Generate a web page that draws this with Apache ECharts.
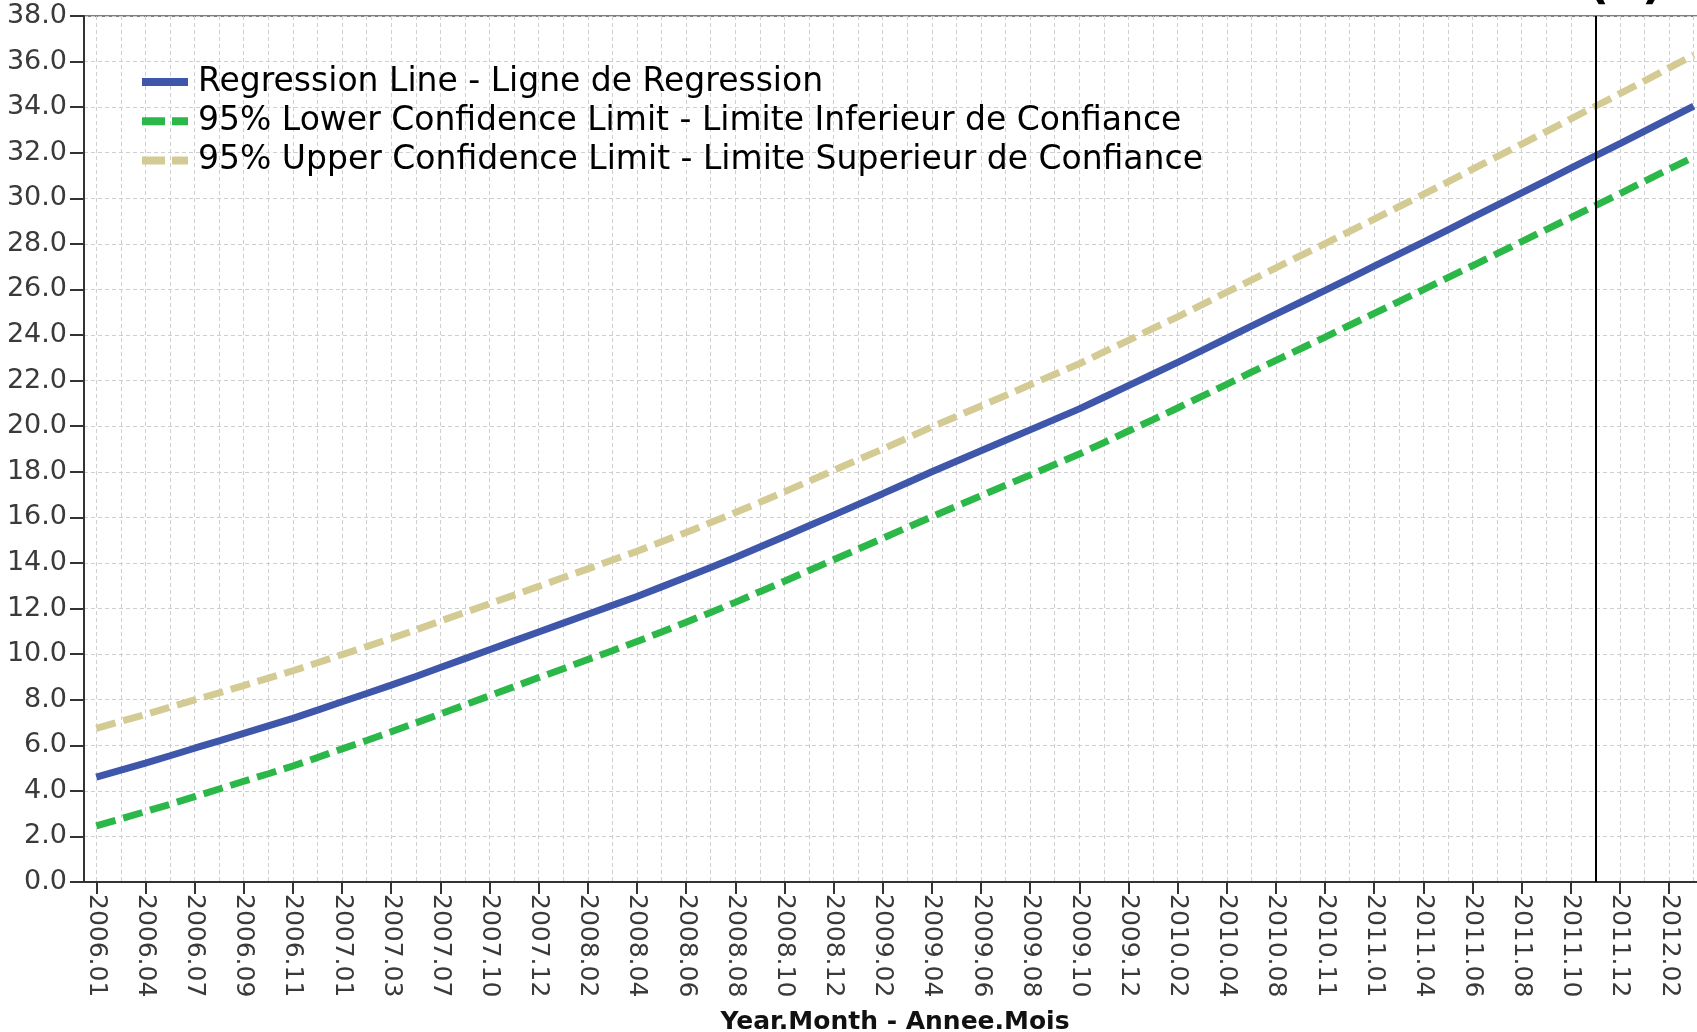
<!DOCTYPE html>
<html>
<head>
<meta charset="utf-8">
<script src="https://cdn.jsdelivr.net/npm/echarts@6/dist/echarts.min.js"></script>
<style>
html,body{margin:0;padding:0;background:#fff;}
#chart{width:1697px;height:1032px;}
</style>
</head>
<body>
<div id="chart"></div>
<script>
const categories = [
  '2006.01','2006.03','2006.04','2006.06','2006.07','2006.08','2006.09','2006.10','2006.11','2006.12',
  '2007.01','2007.02','2007.03','2007.05','2007.07','2007.08','2007.10','2007.11','2007.12','2008.01',
  '2008.02','2008.03','2008.04','2008.05','2008.06','2008.07','2008.08','2008.09','2008.10','2008.11',
  '2008.12','2009.01','2009.02','2009.03','2009.04','2009.05','2009.06','2009.07','2009.08','2009.09',
  '2009.10','2009.11','2009.12','2010.01','2010.02','2010.03','2010.04','2010.06','2010.08','2010.09',
  '2010.11','2010.12','2011.01','2011.03','2011.04','2011.05','2011.06','2011.07','2011.08','2011.09',
  '2011.10','2011.11','2011.12','2012.01','2012.02','2012.03'
];
const regression = [
  4.60,4.91,5.22,5.54,5.87,6.19,6.52,6.85,7.18,7.54,
  7.91,8.27,8.64,9.02,9.41,9.80,10.19,10.58,10.97,11.36,
  11.75,12.14,12.53,12.95,13.37,13.80,14.24,14.70,15.16,15.63,
  16.10,16.57,17.04,17.52,18.00,18.46,18.92,19.38,19.84,20.30,
  20.76,21.27,21.78,22.29,22.80,23.33,23.86,24.39,24.92,25.44,
  25.96,26.49,27.02,27.55,28.08,28.62,29.16,29.70,30.24,30.78,
  31.32,31.86,32.40,32.95,33.50,34.05
];
const lowerLimit = [
  2.46,2.77,3.09,3.41,3.75,4.08,4.42,4.75,5.09,5.46,
  5.84,6.21,6.59,6.98,7.37,7.77,8.17,8.57,8.97,9.36,
  9.76,10.15,10.55,10.97,11.40,11.83,12.27,12.74,13.20,13.67,
  14.14,14.61,15.08,15.56,16.03,16.49,16.95,17.41,17.86,18.32,
  18.78,19.28,19.79,20.29,20.80,21.32,21.84,22.37,22.89,23.40,
  23.91,24.43,24.95,25.47,25.99,26.52,27.04,27.57,28.10,28.63,
  29.15,29.68,30.21,30.75,31.28,31.81
];
const upperLimit = [
  6.74,7.05,7.35,7.67,7.99,8.30,8.62,8.95,9.27,9.62,
  9.98,10.33,10.69,11.06,11.45,11.83,12.21,12.59,12.97,13.36,
  13.74,14.13,14.51,14.93,15.34,15.77,16.21,16.66,17.12,17.59,
  18.06,18.53,19.00,19.48,19.97,20.43,20.89,21.35,21.82,22.28,
  22.74,23.26,23.77,24.29,24.80,25.34,25.88,26.41,26.95,27.48,
  28.01,28.55,29.09,29.63,30.17,30.72,31.28,31.83,32.38,32.93,
  33.49,34.04,34.59,35.15,35.72,36.29
];
const seriesNames = [
  'Regression Line - Ligne de Regression',
  '95% Lower Confidence Limit - Limite Inferieur de Confiance',
  '95% Upper Confidence Limit - Limite Superieur de Confiance'
];
const xAxisTitle = 'Year.Month - Annee.Mois';
const markerCategory = '2011.11';
const cornerText = '(b)';

const chart = echarts.init(document.getElementById('chart'), null, {renderer: 'canvas'});
const FONT = 'DejaVu Sans';
const dash = [20, 8];
const solidIcon = 'path://M0,0H46V8H0Z';
const dashIcon = 'path://M0,0H23V8H0Z M30,0H46V8H30Z';

chart.setOption({
  animation: false,
  backgroundColor: '#ffffff',
  textStyle: {fontFamily: FONT},
  grid: {
    left: 84, top: 16, width: 1622, height: 866,
    outerBoundsMode: 'none',
    show: true, borderColor: '#555', borderWidth: 1.5, containLabel: false
  },
  legend: {
    orient: 'vertical',
    left: 142, top: 64,
    padding: 0,
    itemWidth: 46, itemHeight: 8, itemGap: 3.3,
    textStyle: {fontFamily: FONT, fontSize: 33, color: '#000', lineHeight: 36, padding: [0, 0, 0, 5]},
    data: [
      {name: seriesNames[0], icon: solidIcon},
      {name: seriesNames[1], icon: dashIcon},
      {name: seriesNames[2], icon: dashIcon}
    ]
  },
  xAxis: {
    type: 'category',
    data: categories,
    boundaryGap: true,
    name: xAxisTitle,
    nameLocation: 'middle',
    nameGap: 128,
    nameTextStyle: {fontFamily: FONT, fontWeight: 'bold', fontSize: 25, color: '#111'},
    axisLine: {show: true, onZero: false, lineStyle: {color: '#333', width: 2}},
    axisTick: {show: true, alignWithLabel: true, interval: 1, length: 12, lineStyle: {color: '#333', width: 2}},
    axisLabel: {interval: 1, rotate: -90, margin: 12, fontFamily: FONT, fontSize: 25, color: '#3a3a3a'},
    splitLine: {show: true, interval: 0, alignWithLabel: true, lineStyle: {color: '#cfcfcf', width: 1, type: [4, 3]}}
  },
  yAxis: {
    type: 'value',
    min: 0, max: 38, interval: 2,
    axisLine: {show: true, lineStyle: {color: '#333', width: 2}},
    axisTick: {show: true, length: 14, lineStyle: {color: '#333', width: 2}},
    axisLabel: {margin: 17, fontFamily: FONT, fontSize: 27, color: '#3a3a3a', formatter: v => v.toFixed(1)},
    splitLine: {show: true, lineStyle: {color: '#cfcfcf', width: 1, type: [4, 3]}}
  },
  series: [
    {
      name: seriesNames[0], type: 'line', data: regression, symbol: 'none', z: 4,
      lineStyle: {color: '#3f57ab', width: 7}, itemStyle: {color: '#3f57ab'},
      markLine: {
        silent: true, symbol: 'none', animation: false,
        label: {show: false},
        lineStyle: {color: '#000', width: 2, type: 'solid'},
        data: [{xAxis: markerCategory}]
      }
    },
    {
      name: seriesNames[1], type: 'line', data: lowerLimit, symbol: 'none', z: 3,
      lineStyle: {color: '#2cb849', width: 7, type: dash}, itemStyle: {color: '#2cb849'}
    },
    {
      name: seriesNames[2], type: 'line', data: upperLimit, symbol: 'none', z: 3,
      lineStyle: {color: '#d3cb93', width: 7, type: dash}, itemStyle: {color: '#d3cb93'}
    }
  ],
  graphic: [{
    type: 'text', x: 1588, y: 9, z: 10,
    style: {text: cornerText, font: 'bold 46px "DejaVu Sans"', fill: '#000', verticalAlign: 'bottom'}
  }]
});
</script>
</body>
</html>
